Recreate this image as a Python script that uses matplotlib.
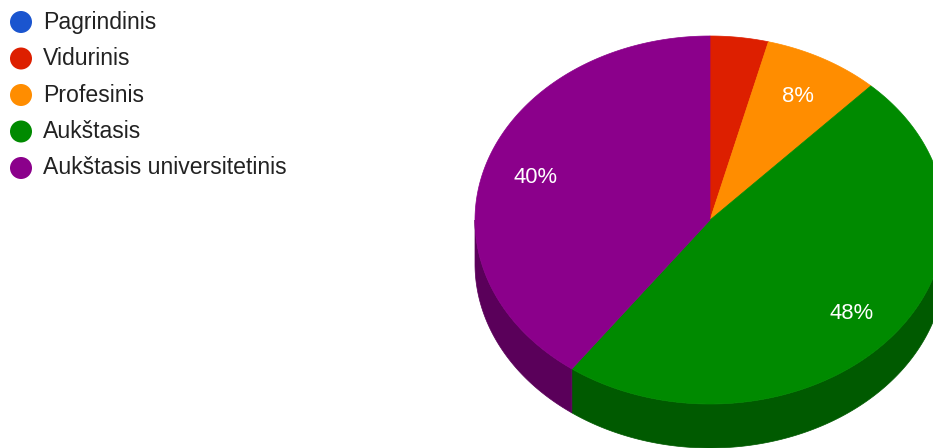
import numpy as np
import matplotlib.pyplot as plt
from matplotlib.patches import Polygon, Circle
from matplotlib.colors import to_rgb

plt.rcParams['font.family'] = ['Liberation Sans', 'DejaVu Sans']

# Data
# -------------------------------------------------------------
labels = ['Pagrindinis', 'Vidurinis', 'Profesinis', 'Aukštasis', 'Aukštasis universitetinis']
values = [0, 4, 8, 48, 40]
colors = ['#1a55cf', '#dd1f00', '#ff8d00', '#008a00', '#8b008b']
# -------------------------------------------------------------

# pie geometry in pixels (y goes down)
cx, cy = 710, 220
a, b = 235, 184
depth = 44


def ell(theta):
    # theta in degrees, clockwise from 12 o'clock
    t = np.radians(theta)
    return cx + a * np.sin(t), cy - b * np.cos(t)


fig = plt.figure(figsize=(9.33, 4.48), dpi=100)
ax = fig.add_axes([0, 0, 1, 1])
ax.set_xlim(0, 933)
ax.set_ylim(448, 0)
ax.axis('off')

total = float(sum(values))
ends = np.cumsum(values) / total * 360.0
starts = ends - np.array(values) / total * 360.0

#   S I D E S
# -------------------------------------------------------------
for s, e, c in zip(starts, ends, colors):
    lo, hi = max(s, 90.0), min(e, 270.0)
    if hi <= lo:
        continue
    th = np.linspace(lo, hi, 200)
    x, y = ell(th)
    pts = np.column_stack([np.r_[x, x[::-1]], np.r_[y, y[::-1] + depth]])
    dark = tuple(v * 0.65 for v in to_rgb(c))
    ax.add_patch(Polygon(pts, closed=True, facecolor=dark, edgecolor=dark, lw=0.5))

#   T O P S
# -------------------------------------------------------------
for s, e, c in zip(starts, ends, colors):
    if e - s <= 0:
        continue
    th = np.linspace(s, e, 300)
    x, y = ell(th)
    pts = np.column_stack([np.r_[cx, x], np.r_[cy, y]])
    ax.add_patch(Polygon(pts, closed=True, facecolor=c, edgecolor=c, lw=0.5))

#   L A B E L S
# -------------------------------------------------------------
for s, e, v in zip(starts, ends, values):
    if v < 5:
        continue
    mid = np.radians((s + e) / 2)
    lx = cx + 0.78 * a * np.sin(mid)
    ly = cy - 0.78 * b * np.cos(mid) + 2
    ax.text(lx, ly, f'{v}%', color='white', fontsize=15.8,
            ha='center', va='center')

#   L E G E N D
# -------------------------------------------------------------
for i, (lab, c) in enumerate(zip(labels, colors)):
    ly = 22 + i * 36.5
    ax.add_patch(Circle((21, ly), 11, facecolor=c, edgecolor='none'))
    ax.text(43, ly, lab, color='#222222', fontsize=16.6, ha='left', va='center')

plt.savefig('out.png', dpi=100)
